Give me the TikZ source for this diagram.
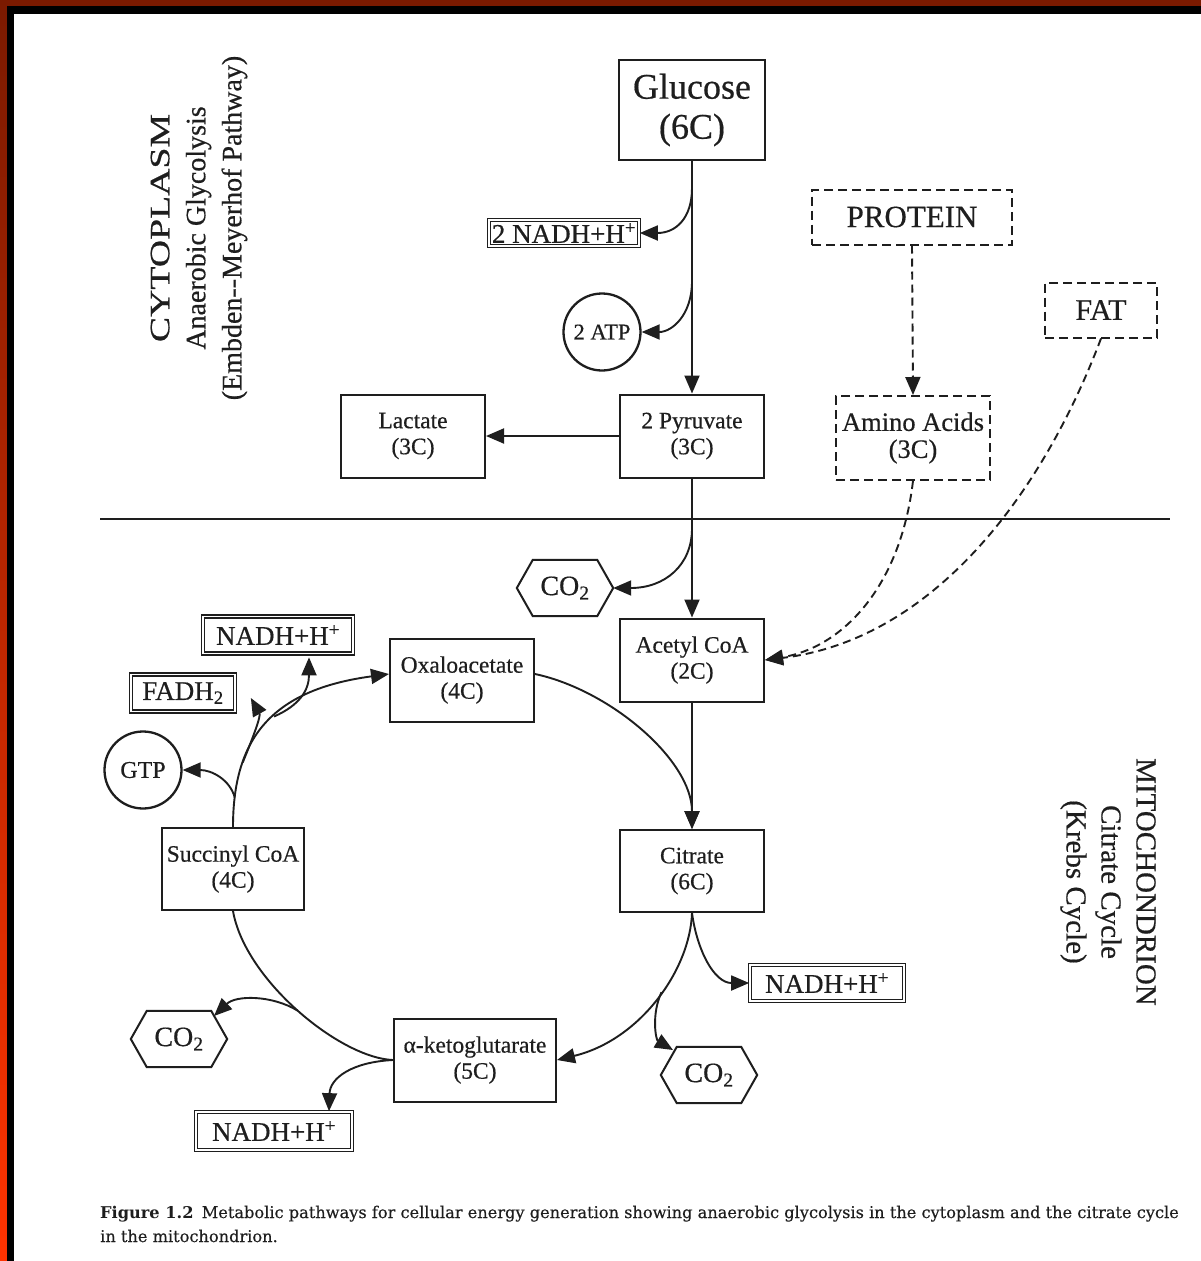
\documentclass[tikz,border=0pt]{standalone}
\usepackage{fontspec}
\setmainfont{Liberation Serif}
\newfontfamily\dfont[UprightFeatures={FakeBold=0.5}]{Liberation Serif}
\newfontfamily\capfont[UprightFeatures={FakeBold=0.3}]{DejaVu Serif}
\usepackage{graphicx}
\usetikzlibrary{arrows.meta,calc}
\definecolor{topred}{HTML}{7B1A00}
\definecolor{leftred}{HTML}{FF3300}
\definecolor{ink}{HTML}{1E1E1E}
\newcommand\drawhex[1]{\draw[hexline] (#1.west) -- ([xshift=16pt]#1.north west) -- ([xshift=-16pt]#1.north east) -- (#1.east) -- ([xshift=-16pt]#1.south east) -- ([xshift=16pt]#1.south west) -- cycle;}
\begin{document}
\begin{tikzpicture}[x=1pt,y=-1pt, color=ink,
  box/.style={draw, line width=2pt, inner sep=0pt, align=center, font=\dfont\fontsize{23.5}{26}\selectfont, minimum width=144pt, minimum height=83pt},
  dbox/.style={draw, double, double distance=1.3pt, line width=1.7pt, inner sep=0pt, align=center, font=\dfont\fontsize{27}{30}\selectfont},
  dashbox/.style={draw, dash pattern=on 9pt off 5pt, line width=2pt, inner sep=0pt, align=center},
  circ/.style={draw, circle, line width=2.3pt, inner sep=0pt, minimum size=77pt},
  hexn/.style={inner sep=0pt, minimum width=96pt, minimum height=56pt, font=\dfont\fontsize{28}{30}\selectfont},
  hexline/.style={line width=2pt, line join=miter},
  arr/.style={-{Triangle[length=18pt,width=15pt]}, line width=1.9pt},
  con/.style={line width=1.9pt},
  darr/.style={arr, dash pattern=on 8pt off 5pt}
]
\useasboundingbox (0,0) rectangle (1201,1261);
\fill[white] (0,0) rectangle (1201,1261);
% frame
\fill[topred] (0,0) rectangle (1201,6);
\shade[top color=topred, bottom color=leftred] (0,0) rectangle (7,1261);
\fill[black] (7,6) rectangle (1201,14);
\fill[black] (7,6) rectangle (14,1261);

% nodes
\node[box, minimum width=146pt, minimum height=100pt, font=\dfont\fontsize{36}{40}\selectfont] (glucose) at (692,110) {Glucose\\(6C)};
\node[dbox, minimum width=150pt, minimum height=26pt] (nadhA) at (564,233) {2 NADH+H\textsuperscript{+}};
\node[circ, font=\dfont\fontsize{22.5}{24}\selectfont] (atp) at (602,332) {2 ATP};
\node[dashbox, minimum width=200pt, minimum height=55pt, font=\dfont\fontsize{31}{34}\selectfont] (protein) at (912,217) {PROTEIN};
\node[dashbox, minimum width=112pt, minimum height=55pt, font=\dfont\fontsize{30}{34}\selectfont] (fat) at (1101,310) {FAT};
\node[dashbox, minimum width=154pt, minimum height=84pt, font=\dfont\fontsize{26.5}{27}\selectfont] (amino) at (913,438) {Amino Acids\\(3C)};
\node[box] (lactate) at (413,436) {Lactate\\(3C)};
\node[box] (pyruvate) at (692,436) {2 Pyruvate\\(3C)};
\node[hexn] (co2a) at (565,588) {CO\textsubscript{2}};
\node[box] (acetyl) at (692,660) {Acetyl CoA\\(2C)};
\node[box] (oxalo) at (462,680) {Oxaloacetate\\(4C)};
\node[dbox, minimum width=150pt, minimum height=37pt] (nadhB) at (278,635) {NADH+H\textsuperscript{+}};
\node[dbox, minimum width=104pt, minimum height=37pt] (fadh) at (183,693) {FADH\textsubscript{2}};
\node[circ, font=\dfont\fontsize{24}{26}\selectfont] (gtp) at (143,770) {GTP};
\node[box, minimum width=142pt, minimum height=82pt] (succinyl) at (233,869) {Succinyl CoA\\(4C)};
\node[box, minimum height=82pt] (citrate) at (692,871) {Citrate\\(6C)};
\node[dbox, minimum width=154pt, minimum height=36pt] (nadhC) at (827,983) {NADH+H\textsuperscript{+}};
\node[hexn] (co2c) at (709,1075) {CO\textsubscript{2}};
\node[box, minimum width=162pt, minimum height=83pt] (akg) at (475,1060) {α-ketoglutarate\\(5C)};
\node[hexn] (co2b) at (179,1039) {CO\textsubscript{2}};
\node[dbox, minimum width=156pt, minimum height=38pt] (nadhD) at (274,1131) {NADH+H\textsuperscript{+}};
\drawhex{co2a}
\drawhex{co2b}
\drawhex{co2c}

% side labels
\node[rotate=90, align=center, font=\dfont\fontsize{28}{36}\selectfont] (cyto) at (199,228) {\scalebox{1.35}[1]{CYTOPLASM}\\Anaerobic Glycolysis\\(Embden--Meyerhof Pathway)};
\node[rotate=-90, align=center, font=\dfont\fontsize{29}{35}\selectfont] (mito) at (1108,882) {MITOCHONDRION\\Citrate Cycle\\(Krebs Cycle)};

% membrane
\draw[line width=1.8pt] (100,519) -- (1170,519);

% glycolysis connectors
\draw[arr] (glucose.south) -- (pyruvate.north);
\draw[arr] ($(glucose.south)+(0,27)$) .. controls (692,218) and (676,233) .. (nadhA.east);
\draw[arr] ($(glucose.south)+(0,120)$) .. controls (692,315) and (672,332) .. (atp.east);
\draw[arr] (pyruvate.west) -- (lactate.east);
\draw[darr] (protein.south) -- (amino.north);
\draw[arr] (pyruvate.south) -- (acetyl.north);
\draw[arr] ($(pyruvate.south)+(0,50)$) .. controls (692,565) and (665,588) .. (co2a.east);
\draw[darr] (amino.south) .. controls (900,590) and (840,648) .. (acetyl.east);
\draw[darr] (fat.south) .. controls (1040,500) and (930,640) .. (acetyl.east);

% citrate cycle
\draw[arr] (acetyl.south) -- (citrate.north);
\draw[arr] ($(oxalo.east)+(0,-6)$) .. controls (610,690) and (692,760) .. (citrate.north);
\draw[arr] (citrate.south) .. controls (697,950) and (714,983) .. (nadhC.west);
\draw[arr] (citrate.south) .. controls (690,970) and (640,1040) .. (akg.east) coordinate[pos=0.45] (bA);
\draw[arr] (bA) .. controls (651,1015) and (656,1040) .. ($(co2c.center)+(-36,-25)$);
\draw[con] (akg.west) .. controls (340,1058) and (245,980) .. (succinyl.south) coordinate[pos=0.5] (bB);
\draw[arr] (bB) .. controls (272,995) and (236,995) .. ($(co2b.center)+(35,-23)$);
\draw[arr] (akg.west) .. controls (352,1062) and (330,1078) .. ($(nadhD.north)+(55,0)$);
\draw[arr] (succinyl.north) .. controls (233,740) and (270,690) .. ($(oxalo.west)+(0,-6)$) coordinate[pos=0.12] (bC) coordinate[pos=0.28] (bD) coordinate[pos=0.55] (bE);
\draw[arr] (bC) .. controls (230,780) and (212,770) .. (gtp.east);
\draw[arr] (bD) .. controls (254,735) and (261,716) .. ($(fadh.east)+(15,5)$);
\draw[arr] (bE) .. controls (300,705) and (309,690) .. ($(nadhB.south)+(31,3)$);

% caption
\node[anchor=base west, inner sep=0pt, font=\capfont\fontsize{16.2}{19}\selectfont] (cap1) at (100,1218) {\textbf{Figure 1.2}\hspace{0.5em}Metabolic pathways for cellular energy generation showing anaerobic glycolysis in the cytoplasm and the citrate cycle};
\node[anchor=base west, inner sep=0pt, font=\capfont\fontsize{16.2}{19}\selectfont] (cap2) at (100,1242) {in the mitochondrion.};
\end{tikzpicture}
\end{document}
